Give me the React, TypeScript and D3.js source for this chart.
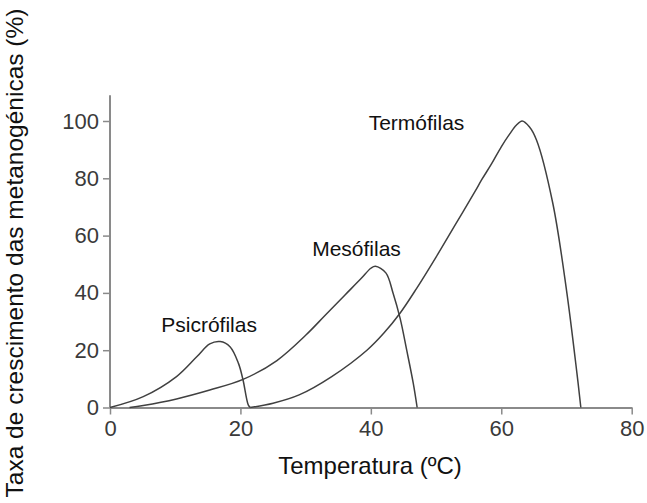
import * as d3 from "d3";
import { useEffect, useRef } from "react";

// temperature (ºC) / growth rate (%)
const psicroX = [0, 5.1, 10.2, 13.3, 15.3, 16.9, 18.4, 19.7, 20.4, 21.2, 21.5];
const psicroY = [0, 3.8, 10.8, 17.7, 22.2, 23, 21.2, 15.4, 9.6, 0.9, 0];

const mesoX = [3, 5.1, 10.2, 15.3, 20.4, 25.6, 30, 33, 36, 38.5, 40, 40.7, 42.3, 43.4, 44.5, 45.5, 46.5, 47.1];
const mesoY = [0, 0.7, 3, 6.1, 9.8, 16.4, 25.2, 32.2, 39.2, 45, 48.6, 49.3, 47, 40, 31, 20, 8.5, 0];

const termoX = [21.5, 25, 29, 34, 39.4, 42, 44.5, 47, 50, 53, 56, 57, 58.5, 60, 61.3, 62.3, 63.2, 64.3, 65.4, 67.9, 70, 71.6, 72.2];
const termoY = [0, 1.5, 4.4, 10.8, 20, 26, 33, 41.5, 52.5, 64, 75.5, 79.5, 85, 91, 95.5, 98.5, 100, 98, 93.4, 71.3, 41, 12, 0];

const seriesNames = ["Psicrófilas", "Mesófilas", "Termófilas"];
const labelAt = [[15.2, 26.5], [37.8, 53], [47, 97]]; // label centre (x, y) in data units

const xTicks = [0, 20, 40, 60, 80];
const yTicks = [0, 20, 40, 60, 80, 100];

const xTitle = "Temperatura (ºC)";
const yTitle = "Taxa de crescimento das metanogénicas (%)";

export default function App() {
  const ref = useRef<SVGSVGElement>(null);
  const width = 647, height = 503;

  useEffect(() => {
    if (!ref.current) return;
    const svg = d3.select(ref.current);
    svg.selectAll("*").remove();

    const x = d3.scaleLinear().domain([0, 80]).range([110, 631.7]);
    const y = d3.scaleLinear().domain([0, 100]).range([407.5, 121]);

    const font = "Arial, 'Liberation Sans', sans-serif";

    // axes
    const xAxis = svg.append("g")
      .attr("transform", `translate(0,${y(0)})`)
      .call(d3.axisBottom(x).tickValues(xTicks).tickSize(7).tickPadding(6).tickSizeOuter(0));
    const yAxis = svg.append("g")
      .attr("transform", `translate(${x(0)},0)`)
      .call(d3.axisLeft(y).tickValues(yTicks).tickSize(7).tickPadding(4).tickSizeOuter(0));
    // y axis line goes a bit above 100
    yAxis.select(".domain").attr("d", `M0,${y(0)}V${y(109)}`);

    [xAxis, yAxis].forEach((a) => {
      a.select(".domain").attr("stroke", "#8a8a8a").attr("stroke-width", 2);
      a.selectAll(".tick line").attr("stroke", "#8a8a8a").attr("stroke-width", 1.5);
      a.selectAll(".tick text")
        .attr("fill", "#3a3a3a")
        .style("font-family", font)
        .style("font-size", "22px");
    });

    // curves
    const line = d3.line<[number, number]>()
      .x((d) => x(d[0]))
      .y((d) => y(d[1]))
      .curve(d3.curveCatmullRom.alpha(0.5));

    const all = [
      d3.zip(psicroX, psicroY),
      d3.zip(mesoX, mesoY),
      d3.zip(termoX, termoY),
    ] as [number, number][][];

    svg.append("g")
      .selectAll("path")
      .data(all)
      .enter()
      .append("path")
      .attr("d", (d) => line(d))
      .attr("fill", "none")
      .attr("stroke", "#404040")
      .attr("stroke-width", 1.5);

    // series labels
    svg.append("g")
      .selectAll("text")
      .data(seriesNames)
      .enter()
      .append("text")
      .attr("x", (d, i) => x(labelAt[i][0]))
      .attr("y", (d, i) => y(labelAt[i][1]))
      .attr("text-anchor", "middle")
      .style("font-family", font)
      .style("font-size", "21px")
      .attr("fill", "#111")
      .text((d) => d);

    // axis titles
    svg.append("text")
      .attr("x", 370)
      .attr("y", 474)
      .attr("text-anchor", "middle")
      .style("font-family", font)
      .style("font-size", "24px")
      .attr("fill", "#111")
      .text(xTitle);

    svg.append("text")
      .attr("transform", "translate(23,253) rotate(-90)")
      .attr("text-anchor", "middle")
      .style("font-family", font)
      .style("font-size", "24.5px")
      .attr("fill", "#111")
      .text(yTitle);
  }, []);

  return (
    <svg
      ref={ref}
      width={width}
      height={height}
      style={{ position: "absolute", left: 0, top: 0, background: "#fff" }}
    />
  );
}
